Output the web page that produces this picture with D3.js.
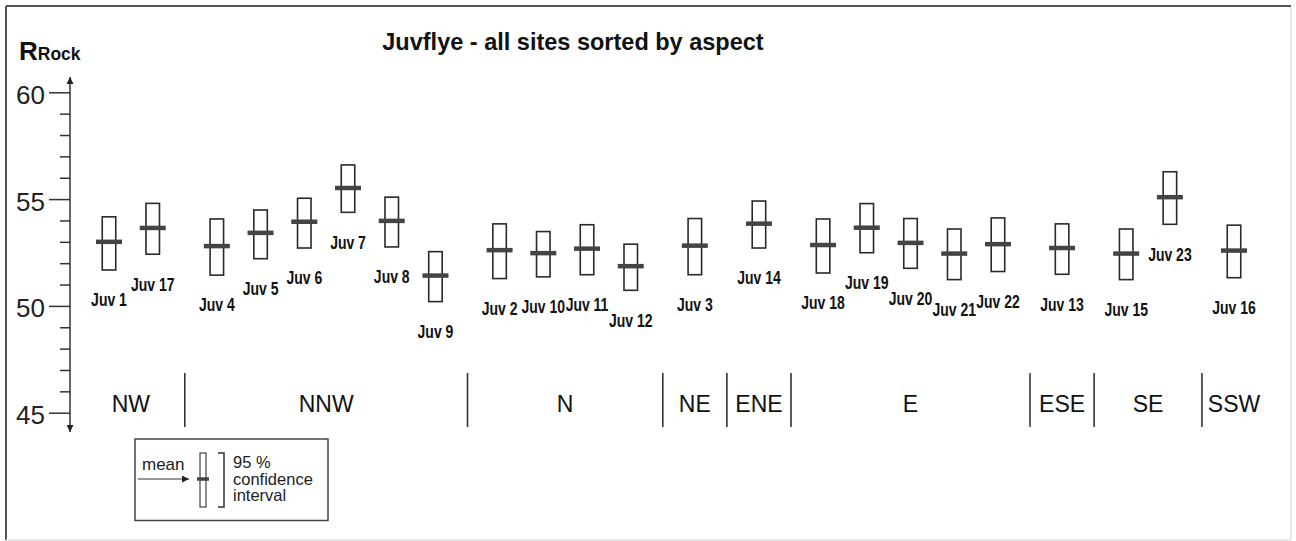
<!DOCTYPE html>
<html>
<head>
<meta charset="utf-8">
<script src="https://cdn.jsdelivr.net/npm/d3@7"></script>
<style>
  body { margin: 0; background: #fff; }
  svg { display: block; font-family: "Liberation Sans", Arial, sans-serif; }
</style>
</head>
<body>
<div id="chart"></div>
<script>
/* CONSTANTS AND GLOBALS */
const width = 1296;
const height = 541;

/* DATA */
const sites = ["Juv 1", "Juv 17", "Juv 4", "Juv 5", "Juv 6", "Juv 7", "Juv 8", "Juv 9",
  "Juv 2", "Juv 10", "Juv 11", "Juv 12", "Juv 3", "Juv 14", "Juv 18", "Juv 19", "Juv 20",
  "Juv 21", "Juv 22", "Juv 13", "Juv 15", "Juv 23", "Juv 16"];
const siteAspect = ["NW", "NW", "NNW", "NNW", "NNW", "NNW", "NNW", "NNW",
  "N", "N", "N", "N", "NE", "ENE", "E", "E", "E", "E", "E", "ESE", "SE", "SE", "SSW"];
const aspects = ["NW", "NNW", "N", "NE", "ENE", "E", "ESE", "SE", "SSW"];
const means = [53.0, 53.65, 52.8, 53.42, 53.94, 55.52, 53.98, 51.42, 52.61, 52.47, 52.68,
  51.86, 52.82, 53.85, 52.85, 53.66, 52.95, 52.45, 52.89, 52.71, 52.45, 55.09, 52.59];
const ciLow = [51.68, 52.42, 51.44, 52.21, 52.71, 54.38, 52.76, 50.2, 51.28, 51.36, 51.46,
  50.73, 51.46, 52.71, 51.54, 52.49, 51.76, 51.23, 51.61, 51.48, 51.23, 53.82, 51.32];
const ciHigh = [54.17, 54.8, 54.07, 54.49, 55.04, 56.6, 55.09, 52.54, 53.84, 53.48, 53.8,
  52.89, 54.09, 54.91, 54.07, 54.79, 54.09, 53.6, 54.12, 53.84, 53.6, 56.28, 53.78];
const majorTicks = [45, 50, 55, 60];
const title = "Juvflye - all sites sorted by aspect";

const data = sites.map((s, i) => ({
  site: s, aspect: siteAspect[i], mean: means[i], low: ciLow[i], high: ciHigh[i]
}));

/* SCALES */
// sites evenly spaced, with an extra gap between aspect groups
const groupGap = 0.466;
data.forEach((d, i) => { d.slot = i + groupGap * aspects.indexOf(d.aspect); });
const lastSlot = d3.max(data, d => d.slot);

const xScale = d3.scaleLinear()
  .domain([0, lastSlot])
  .range([109, 1234]);

const yScale = d3.scaleLinear()
  .domain([45, 60])
  .range([412.7, 92.3]);

/* HTML ELEMENTS */
const svg = d3.select("#chart")
  .append("svg")
  .attr("width", width)
  .attr("height", height)
  .style("background-color", "white");

// frame
svg.append("line").attr("x1", 6).attr("y1", 6).attr("x2", 1291).attr("y2", 6)
  .attr("stroke", "#555").attr("stroke-width", 2);
svg.append("line").attr("x1", 6).attr("y1", 6).attr("x2", 6).attr("y2", 540)
  .attr("stroke", "#555").attr("stroke-width", 2);
svg.append("line").attr("x1", 1291).attr("y1", 7).attr("x2", 1291).attr("y2", 540)
  .attr("stroke", "#e2e2e2").attr("stroke-width", 1.5);
svg.append("line").attr("x1", 6).attr("y1", 540).attr("x2", 1291).attr("y2", 540)
  .attr("stroke", "#e2e2e2").attr("stroke-width", 1.5);

// title
svg.append("text")
  .attr("x", 573).attr("y", 50)
  .attr("text-anchor", "middle")
  .attr("font-size", 23.5).attr("font-weight", "bold").attr("fill", "#111")
  .text(title);

// y label
const yLab = svg.append("text").attr("x", 19).attr("y", 59.5)
  .attr("font-weight", "bold").attr("fill", "#111");
yLab.append("tspan").attr("font-size", 26).text("R");
yLab.append("tspan").attr("font-size", 17.5).text("Rock");

/* AXIS */
const defs = svg.append("defs");
defs.append("marker").attr("id", "arrow")
  .attr("viewBox", "0 0 10 10").attr("refX", 10).attr("refY", 5)
  .attr("markerWidth", 7).attr("markerHeight", 7).attr("markerUnits", "userSpaceOnUse")
  .attr("orient", "auto-start-reverse")
  .append("path").attr("d", "M0,0 L10,5 L0,10 Z").attr("fill", "#222");

const axisX = 70;
svg.append("line")
  .attr("x1", axisX).attr("x2", axisX)
  .attr("y1", 432).attr("y2", 77)
  .attr("stroke", "#333").attr("stroke-width", 1.5)
  .attr("marker-start", "url(#arrow)")
  .attr("marker-end", "url(#arrow)");

const minorAxis = svg.append("g")
  .attr("transform", `translate(${axisX},0)`)
  .call(d3.axisLeft(yScale)
    .tickValues(d3.range(45, 61).filter(v => !majorTicks.includes(v)))
    .tickSize(10).tickFormat(""));
minorAxis.select(".domain").remove();

const majorAxis = svg.append("g")
  .attr("transform", `translate(${axisX},0)`)
  .call(d3.axisLeft(yScale).tickValues(majorTicks).tickSize(21).tickPadding(4));
majorAxis.select(".domain").remove();
majorAxis.selectAll("text")
  .attr("font-size", 26).attr("fill", "#222")
  .attr("font-family", "'Liberation Sans', Arial, sans-serif")
  .attr("dy", "0.42em");

svg.selectAll(".tick line").attr("stroke", "#333").attr("stroke-width", 1.5);

/* CONFIDENCE BOXES */
const boxW = 13.5;
const meanW = 26;

svg.selectAll(".ci")
  .data(data)
  .join("rect")
  .attr("class", "ci")
  .attr("x", d => xScale(d.slot) - boxW / 2)
  .attr("y", d => yScale(d.high))
  .attr("width", boxW)
  .attr("height", d => yScale(d.low) - yScale(d.high))
  .attr("fill", "white")
  .attr("stroke", "#2a2a2a")
  .attr("stroke-width", 1.6);

svg.selectAll(".mean")
  .data(data)
  .join("line")
  .attr("class", "mean")
  .attr("x1", d => xScale(d.slot) - meanW / 2)
  .attr("x2", d => xScale(d.slot) + meanW / 2)
  .attr("y1", d => yScale(d.mean))
  .attr("y2", d => yScale(d.mean))
  .attr("stroke", "#444")
  .attr("stroke-width", 4.5);

// condensed bold labels, like the original's narrow face
svg.selectAll(".siteLabel")
  .data(data)
  .join("text")
  .attr("class", "siteLabel")
  .attr("transform", d => `translate(${xScale(d.slot)},${yScale(d.low) + 30}) scale(0.8,1)`)
  .attr("dy", "0.36em")
  .attr("text-anchor", "middle")
  .attr("font-weight", "bold")
  .attr("font-size", 17.5)
  .attr("fill", "#111")
  .text(d => d.site);

/* ASPECT GROUPS */
const groups = aspects.map(a => {
  const xs = data.filter(d => d.aspect === a).map(d => xScale(d.slot));
  return { aspect: a, cx: d3.mean(xs) };
});
const separators = [];
for (let i = 0; i < data.length - 1; i++) {
  if (data[i].aspect !== data[i + 1].aspect) {
    separators.push((xScale(data[i].slot) + xScale(data[i + 1].slot)) / 2);
  }
}

svg.selectAll(".sep")
  .data(separators)
  .join("line")
  .attr("class", "sep")
  .attr("x1", d => d).attr("x2", d => d)
  .attr("y1", 373).attr("y2", 427)
  .attr("stroke", "#333").attr("stroke-width", 1.6);

svg.selectAll(".aspectLabel")
  .data(groups)
  .join("text")
  .attr("class", "aspectLabel")
  .attr("x", d => d.cx)
  .attr("y", 412)
  .attr("text-anchor", "middle")
  .attr("font-size", 23)
  .attr("fill", "#111")
  .text(d => d.aspect);

/* LEGEND */
const legend = svg.append("g").attr("transform", "translate(135,439)");
legend.append("rect")
  .attr("width", 193).attr("height", 81.5)
  .attr("fill", "white").attr("stroke", "#444").attr("stroke-width", 1.5);
legend.append("text").attr("x", 7).attr("y", 31)
  .attr("font-size", 17).attr("fill", "#222").text("mean");
legend.append("line").attr("x1", 3).attr("x2", 54).attr("y1", 40).attr("y2", 40)
  .attr("stroke", "#333").attr("stroke-width", 1)
  .attr("marker-end", "url(#arrow)");
legend.append("rect").attr("x", 65).attr("y", 14).attr("width", 6).attr("height", 54)
  .attr("fill", "white").attr("stroke", "#444").attr("stroke-width", 1.2);
legend.append("line").attr("x1", 62).attr("x2", 74).attr("y1", 40).attr("y2", 40)
  .attr("stroke", "#444").attr("stroke-width", 3.5);
legend.append("path").attr("d", "M83,14 H89 V68 H83")
  .attr("fill", "none").attr("stroke", "#333").attr("stroke-width", 1.5);
const ciText = legend.append("text").attr("x", 98).attr("y", 29)
  .attr("font-size", 16.5).attr("fill", "#222");
["95 %", "confidence", "interval"].forEach((t, i) => {
  ciText.append("tspan").attr("x", 98).attr("dy", i === 0 ? 0 : 16.5).text(t);
});
</script>
</body>
</html>
